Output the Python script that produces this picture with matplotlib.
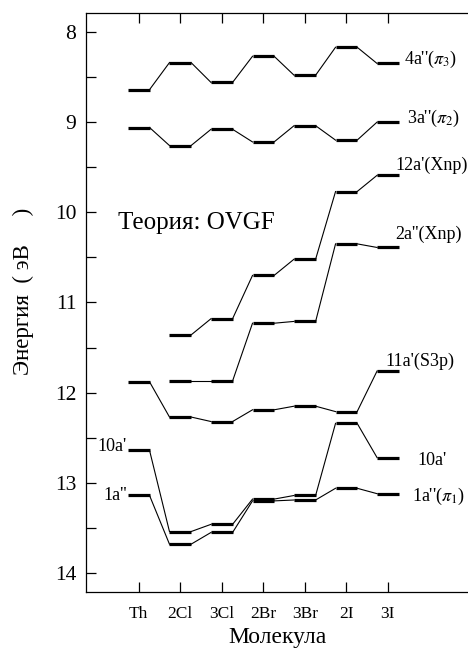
import numpy as np
import matplotlib.pyplot as plt

plt.rcParams['font.family'] = ['Liberation Serif', 'DejaVu Serif']
plt.rcParams['mathtext.fontset'] = 'stix'

molecules = ['Th', '2Cl', '3Cl', '2Br', '3Br', '2I', '3I']

# energies (eV) of orbital levels, nan = not present
e_4a2 = [8.64, 8.34, 8.56, 8.27, 8.48, 8.17, 8.35]
e_3a2 = [9.06, 9.26, 9.08, 9.22, 9.04, 9.20, 9.00]
e_12a1 = [np.nan, 11.36, 11.18, 10.70, 10.52, 9.77, 9.59]
e_2a2 = [np.nan, 11.87, 11.87, 11.23, 11.21, 10.35, 10.39]
e_11a1 = [11.88, 12.27, 12.32, 12.19, 12.15, 12.21, 11.76]
e_10a1 = [12.64, 13.54, 13.46, 13.18, 13.14, 12.34, 12.72]
e_1a2 = [13.14, 13.68, 13.55, 13.20, 13.19, 13.06, 13.12]

series = [e_4a2, e_3a2, e_12a1, e_2a2, e_11a1, e_10a1, e_1a2]

fig = plt.figure(figsize=(4.68, 6.55), dpi=100)
ax = fig.add_axes([0.1838, 0.0962, 0.8162, 0.884])

x = np.arange(1, len(molecules) + 1)
w = 0.26
for s in series:
    s = np.array(s)
    for i in range(len(s)):
        if np.isnan(s[i]):
            continue
        ax.plot([x[i] - w, x[i] + w], [s[i], s[i]], color='black', lw=2.3,
                solid_capstyle='butt')
        if i + 1 < len(s) and not np.isnan(s[i + 1]):
            ax.plot([x[i] + w, x[i + 1] - w], [s[i], s[i + 1]],
                    color='black', lw=0.8)

ax.set_xlim(-0.27, 8.93)
ax.set_ylim(14.21, 7.79)
ax.set_xticks(x)
ax.set_xticklabels(molecules, fontsize=12.5)
ax.set_yticks(np.arange(8, 15, 1))
ax.set_yticks(np.arange(8.5, 14, 1), minor=True)
ax.tick_params(axis='y', which='both', direction='in', length=7, width=0.9,
               labelsize=15.5, pad=7)
ax.tick_params(axis='x', which='both', direction='in', length=7, width=0.9,
               top=True, pad=10)
ax.spines['right'].set_visible(False)
for sp in ['left', 'top', 'bottom']:
    ax.spines[sp].set_linewidth(0.9)

ax.set_xlabel('Молекула', fontsize=17, labelpad=4)
ax.set_ylabel('Энергия  ( эВ     )', fontsize=16.5, va='center')
ax.yaxis.set_label_coords(-0.165, 0.52)

# level labels
fs = 13
ax.text(7.4, 8.30, r"4a''($\pi_3$)", fontsize=fs, va='center')
ax.text(7.45, 8.96, r"3a''($\pi_2$)", fontsize=fs, va='center')
ax.text(7.17, 9.48, "12a'(Xnp)", fontsize=fs, va='center')
ax.text(7.17, 10.24, "2a''(Xnp)", fontsize=fs, va='center')
ax.text(6.95, 11.65, "11a'(S3p)", fontsize=fs, va='center')
ax.text(7.7, 12.75, "10a'", fontsize=fs, va='center')
ax.text(7.58, 13.15, r"1a''($\pi_1$)", fontsize=fs, va='center')
ax.text(1 - w - 0.02, 12.6, "10a'", fontsize=13, va='center', ha='right')
ax.text(1 - w - 0.02, 13.14, "1a''", fontsize=13, va='center', ha='right')
ax.text(0.5, 10.12, 'Теория: OVGF', fontsize=18, va='center')

fig.savefig('out.png', dpi=100)
